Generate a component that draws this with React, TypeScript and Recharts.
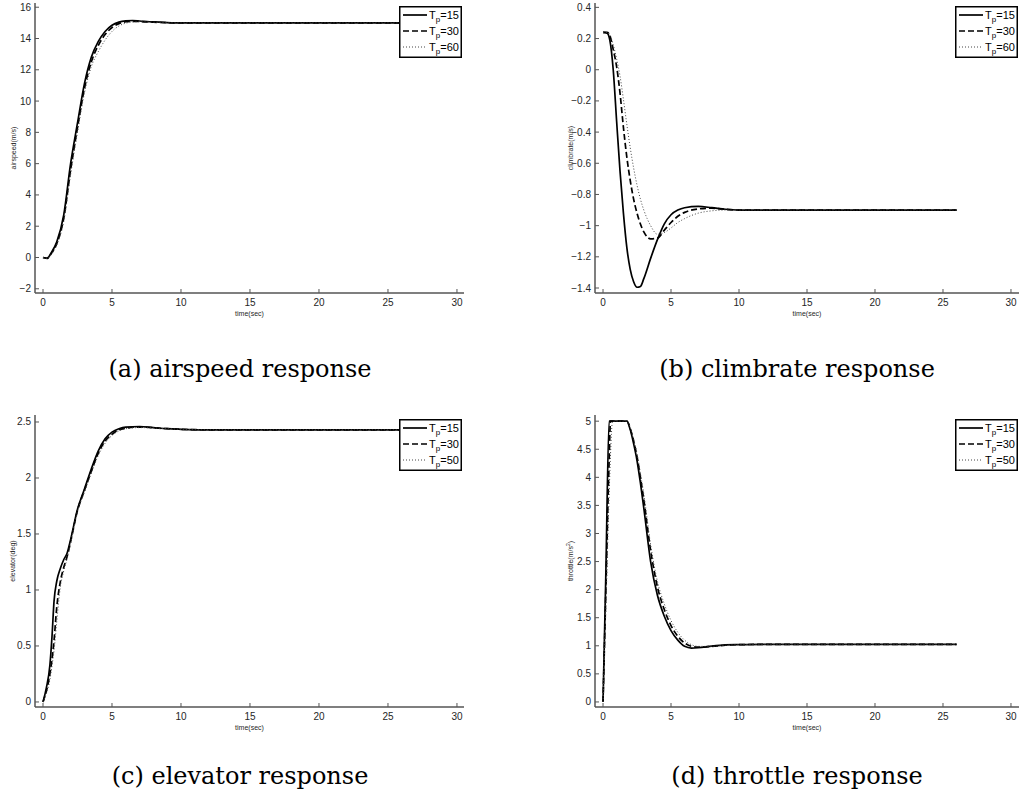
import React from 'react';
import { LineChart, Line, XAxis, YAxis, Legend } from 'recharts';

// ---------- data ----------
const xTicks = [0, 5, 10, 15, 20, 25, 30];

const timeA = [0, 0.3, 0.6, 1, 1.5, 2, 2.5, 3, 3.5, 4, 4.5, 5, 5.5, 6, 6.5, 7, 8, 9, 10, 12, 15, 20, 26];
const airspeedTp15 = [0, -0.05, 0.3, 1.0, 2.7, 6.0, 8.6, 11.1, 12.8, 13.8, 14.45, 14.85, 15.05, 15.13, 15.15, 15.12, 15.06, 15.02, 15.0, 15.0, 15.0, 15.0, 15.0];
const airspeedTp30 = [0, -0.05, 0.25, 0.9, 2.5, 5.6, 8.3, 10.8, 12.5, 13.55, 14.25, 14.7, 14.95, 15.07, 15.1, 15.09, 15.04, 15.01, 15.0, 15.0, 15.0, 15.0, 15.0];
const airspeedTp60 = [0, -0.05, 0.2, 0.8, 2.3, 5.3, 8.0, 10.5, 12.2, 13.15, 13.9, 14.45, 14.8, 14.98, 15.06, 15.07, 15.04, 15.01, 15.0, 15.0, 15.0, 15.0, 15.0];
const airspeedTicks = [-2, 0, 2, 4, 6, 8, 10, 12, 14, 16];

const timeB = [0, 0.3, 0.5, 0.75, 1.0, 1.25, 1.5, 1.75, 2.0, 2.25, 2.5, 2.75, 3.0, 3.5, 4.0, 4.5, 5.0, 5.5, 6.0, 7.0, 8.0, 9.0, 10, 12, 15, 20, 26];
const climbTp15 = [0.24, 0.235, 0.19, 0.0, -0.33, -0.65, -0.92, -1.14, -1.28, -1.36, -1.395, -1.39, -1.34, -1.21, -1.09, -0.99, -0.93, -0.9, -0.885, -0.877, -0.885, -0.895, -0.9, -0.9, -0.9, -0.9, -0.9];
const climbTp30 = [0.24, 0.24, 0.22, 0.13, 0.02, -0.15, -0.37, -0.56, -0.71, -0.83, -0.92, -0.99, -1.04, -1.085, -1.08, -1.03, -0.98, -0.94, -0.915, -0.893, -0.888, -0.895, -0.9, -0.9, -0.9, -0.9, -0.9];
const climbTp60 = [0.24, 0.24, 0.225, 0.16, 0.07, -0.04, -0.19, -0.35, -0.5, -0.63, -0.74, -0.83, -0.9, -1.0, -1.055, -1.045, -1.015, -0.98, -0.955, -0.92, -0.905, -0.9, -0.9, -0.9, -0.9, -0.9, -0.9];
const climbTicks = [-1.4, -1.2, -1, -0.8, -0.6, -0.4, -0.2, 0, 0.2, 0.4];

const timeC = [0, 0.25, 0.5, 0.65, 0.8, 1.0, 1.25, 1.5, 1.75, 2.0, 2.5, 3.0, 3.5, 4.0, 4.5, 5.0, 5.5, 6.0, 7.0, 8.0, 9.0, 10, 12, 15, 20, 26];
const elevTp15 = [0, 0.13, 0.33, 0.58, 0.9, 1.08, 1.19, 1.27, 1.33, 1.45, 1.72, 1.9, 2.08, 2.24, 2.35, 2.41, 2.44, 2.455, 2.46, 2.45, 2.44, 2.435, 2.43, 2.43, 2.43, 2.43];
const elevTp30 = [0, 0.1, 0.25, 0.38, 0.55, 0.85, 1.07, 1.2, 1.3, 1.43, 1.71, 1.89, 2.06, 2.22, 2.33, 2.39, 2.43, 2.445, 2.455, 2.448, 2.44, 2.435, 2.43, 2.43, 2.43, 2.43];
const elevTp50 = [0, 0.08, 0.2, 0.32, 0.46, 0.72, 1.02, 1.17, 1.28, 1.42, 1.7, 1.87, 2.04, 2.2, 2.31, 2.38, 2.42, 2.44, 2.45, 2.447, 2.44, 2.435, 2.43, 2.43, 2.43, 2.43];
const elevTicks = [0, 0.5, 1, 1.5, 2, 2.5];

const timeD = [0, 0.2, 0.45, 0.55, 0.7, 1.0, 1.5, 1.75, 2.0, 2.25, 2.5, 2.75, 3.0, 3.5, 4.0, 4.5, 5.0, 5.5, 6.0, 6.5, 7.0, 8.0, 9.0, 10, 12, 15, 20, 26];
const throttleTp15 = [0, 2.2, 5, 5, 5, 5, 5, 5, 4.85, 4.6, 4.3, 3.9, 3.45, 2.5, 1.9, 1.53, 1.27, 1.1, 0.99, 0.96, 0.965, 0.995, 1.015, 1.02, 1.025, 1.025, 1.025, 1.025];
const throttleTp30 = [0, 1.9, 4.3, 5, 5, 5, 5, 5, 4.87, 4.65, 4.37, 4.0, 3.6, 2.7, 2.05, 1.65, 1.36, 1.17, 1.05, 0.99, 0.975, 0.99, 1.01, 1.02, 1.025, 1.025, 1.025, 1.025];
const throttleTp50 = [0, 1.6, 3.7, 4.4, 5, 5, 5, 5, 4.88, 4.68, 4.42, 4.07, 3.7, 2.8, 2.15, 1.75, 1.45, 1.24, 1.1, 1.02, 0.99, 0.99, 1.01, 1.02, 1.025, 1.025, 1.025, 1.025];
const throttleTicks = [0, 0.5, 1, 1.5, 2, 2.5, 3, 3.5, 4, 4.5, 5];

const legendTop = ['15', '30', '60'];
const legendBottom = ['15', '30', '50'];

const captions = ['(a) airspeed response', '(b) climbrate response', '(c) elevator response', '(d) throttle response'];

// ---------- styles ----------
const FONT = 'Liberation Sans, Arial, Helvetica, sans-serif';
const AXIS = '#555555';
const TXT = '#262626';
const SERIES = [
  { key: 's1', stroke: '#000000', width: 1.7, dash: undefined as string | undefined },
  { key: 's2', stroke: '#000000', width: 1.7, dash: '6 3' },
  { key: 's3', stroke: '#444444', width: 1, dash: '1 2' },
];

const build = (t: number[], a: number[], b: number[], c: number[]) =>
  t.map((x, i) => ({ t: x, s1: a[i], s2: b[i], s3: c[i] }));

const fmt = (v: number) => (v < 0 ? '\u2212' + String(Math.abs(v)) : String(v));

const XTick = (props: any) => {
  const { x, y, payload } = props;
  return (
    <g>
      <line x1={x} y1={y} x2={x} y2={y - 4} stroke={AXIS} strokeWidth={1} />
      <text x={x} y={y + 13} textAnchor="middle" fontSize={10} fill={TXT} fontFamily={FONT}>
        {fmt(payload.value)}
      </text>
    </g>
  );
};

const YTick = (props: any) => {
  const { x, y, payload } = props;
  return (
    <g>
      <line x1={x} y1={y} x2={x + 4} y2={y} stroke={AXIS} strokeWidth={1} />
      <text x={x - 4} y={y + 3.5} textAnchor="end" fontSize={10} fill={TXT} fontFamily={FONT}>
        {fmt(payload.value)}
      </text>
    </g>
  );
};

const LegendBox = ({ labels }: { labels: string[] }) => (
  <svg width={63} height={52} style={{ display: 'block' }}>
    <rect x={0.75} y={0.75} width={61.5} height={50.5} fill="#ffffff" stroke="#000" strokeWidth={1.5} />
    {SERIES.map((s, i) => {
      const cy = 9 + i * 16;
      return (
        <g key={s.key}>
          <line x1={4} x2={28} y1={cy} y2={cy} stroke={s.stroke} strokeWidth={s.width} strokeDasharray={s.dash} />
          <text x={30} y={cy + 4} fontSize={11} fontFamily={FONT} fill="#000">
            <tspan>T</tspan>
            <tspan dy={3} fontSize={8}>p</tspan>
            <tspan dy={-3}>={labels[i]}</tspan>
          </text>
        </g>
      );
    })}
  </svg>
);

type PanelProps = {
  left: number;
  top: number;
  width: number;
  height: number;
  margin: { top: number; right: number; bottom: number; left: number };
  yWidth: number;
  xDomain: [number, number];
  yDomain: [number, number];
  yTicks: number[];
  yLabel: React.ReactNode;
  yLabelX: number;
  data: any[];
  legendLabels: string[];
  legendPos: { left: number; top: number };
};

const Panel = (p: PanelProps) => {
  const plotLeft = p.margin.left + p.yWidth;
  const plotRight = p.width - p.margin.right;
  const plotTop = p.margin.top;
  const plotBottom = p.height - p.margin.bottom - 30;
  const cx = (plotLeft + plotRight) / 2;
  const cy = (plotTop + plotBottom) / 2;
  return (
    <div style={{ position: 'absolute', left: p.left, top: p.top }}>
      <LineChart width={p.width} height={p.height} data={p.data} margin={p.margin}>
        <XAxis
          dataKey="t"
          type="number"
          domain={p.xDomain}
          ticks={xTicks}
          allowDataOverflow
          interval={0}
          height={30}
          tickSize={0}
          tickMargin={0}
          tickLine={false}
          axisLine={{ stroke: AXIS, strokeWidth: 1.5 }}
          tick={<XTick />}
          label={{
            content: () => (
              <text x={cx} y={plotBottom + 22.5} textAnchor="middle" fontSize={7} fill={TXT} fontFamily={FONT}>
                time(sec)
              </text>
            ),
          }}
        />
        <YAxis
          type="number"
          domain={p.yDomain}
          ticks={p.yTicks}
          allowDataOverflow
          interval={0}
          width={p.yWidth}
          tickSize={0}
          tickMargin={0}
          tickLine={false}
          axisLine={{ stroke: AXIS, strokeWidth: 1.5 }}
          tick={<YTick />}
          label={{
            content: () => (
              <text
                x={p.yLabelX}
                y={cy}
                transform={`rotate(-90 ${p.yLabelX} ${cy})`}
                textAnchor="middle"
                dominantBaseline="central"
                fontSize={7}
                fill={TXT}
                fontFamily={FONT}
              >
                {p.yLabel}
              </text>
            ),
          }}
        />
        {SERIES.map((s) => (
          <Line
            key={s.key}
            dataKey={s.key}
            type="monotone"
            stroke={s.stroke}
            strokeWidth={s.width}
            strokeDasharray={s.dash}
            dot={false}
            activeDot={false}
            isAnimationActive={false}
          />
        ))}
        <Legend
          layout="vertical"
          align="center"
          verticalAlign="middle"
          content={() => <LegendBox labels={p.legendLabels} />}
          wrapperStyle={{ left: p.legendPos.left, top: p.legendPos.top, width: 63, height: 52, margin: 0 }}
        />
      </LineChart>
    </div>
  );
};

export default function App() {
  const dataA = build(timeA, airspeedTp15, airspeedTp30, airspeedTp60);
  const dataB = build(timeB, climbTp15, climbTp30, climbTp60);
  const dataC = build(timeC, elevTp15, elevTp30, elevTp50);
  const dataD = build(timeD, throttleTp15, throttleTp30, throttleTp50);
  return (
    <div style={{ position: 'absolute', left: 0, top: 0, width: 1028, height: 800, background: '#fff' }}>
      <Panel
        left={0}
        top={0}
        width={500}
        height={340}
        margin={{ top: 3, right: 36, bottom: 17, left: 0 }}
        yWidth={35}
        xDomain={[-0.58, 30.51]}
        yDomain={[-2.27, 16.27]}
        yTicks={airspeedTicks}
        yLabel="airspeed(m/s)"
        yLabelX={13}
        data={dataA}
        legendLabels={legendTop}
        legendPos={{ left: 399, top: 6 }}
      />
      <Panel
        left={500}
        top={0}
        width={528}
        height={340}
        margin={{ top: 3, right: 9, bottom: 17, left: 0 }}
        yWidth={95}
        xDomain={[-0.59, 30.59]}
        yDomain={[-1.432, 0.428]}
        yTicks={climbTicks}
        yLabel="climbrate(m/s)"
        yLabelX={70}
        data={dataB}
        legendLabels={legendTop}
        legendPos={{ left: 455, top: 6 }}
      />
      <Panel
        left={0}
        top={410}
        width={500}
        height={340}
        margin={{ top: 5, right: 36, bottom: 13, left: 0 }}
        yWidth={35}
        xDomain={[-0.58, 30.51]}
        yDomain={[-0.045, 2.5625]}
        yTicks={elevTicks}
        yLabel="elevator(deg)"
        yLabelX={12}
        data={dataC}
        legendLabels={legendBottom}
        legendPos={{ left: 399, top: 9 }}
      />
      <Panel
        left={500}
        top={410}
        width={528}
        height={340}
        margin={{ top: 5, right: 9, bottom: 13, left: 0 }}
        yWidth={95}
        xDomain={[-0.59, 30.59]}
        yDomain={[-0.09, 5.11]}
        yTicks={throttleTicks}
        yLabel={
          <>
            throttle(m/s<tspan dy={-2.5} fontSize={5}>2</tspan>
            <tspan dy={2.5}>)</tspan>
          </>
        }
        yLabelX={70}
        data={dataD}
        legendLabels={legendBottom}
        legendPos={{ left: 455, top: 9 }}
      />
      <svg width={1028} height={800} style={{ position: 'absolute', left: 0, top: 0, pointerEvents: 'none' }}>
        {captions.map((c, i) => (
          <text
            key={c}
            x={i % 2 === 0 ? 240 : 797}
            y={i < 2 ? 377 : 784}
            textAnchor="middle"
            fontSize={24}
            fontFamily="DejaVu Serif, serif"
            fill="#000"
          >
            {c}
          </text>
        ))}
      </svg>
    </div>
  );
}
